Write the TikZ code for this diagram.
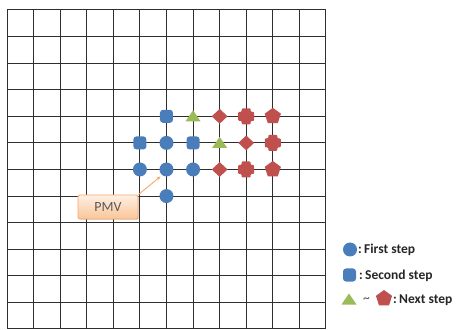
\documentclass[tikz,border=0pt]{standalone}
\usepackage{fontspec}
\setmainfont{Carlito}
\usetikzlibrary{shapes.geometric,arrows.meta,shadows}

\definecolor{stepblue}{HTML}{4A7EBB}
\definecolor{stepgreen}{HTML}{9BBB59}
\definecolor{stepred}{HTML}{C0504D}
\definecolor{pmvline}{HTML}{F6A86E}
\definecolor{pmvtop}{HTML}{FEF0E4}
\definecolor{pmvbot}{HTML}{FBC597}
\definecolor{gridgray}{HTML}{2E2E2E}

\tikzset{
  gridline/.style={draw=gridgray, line width=1pt},
  firstmark/.style={circle, fill=stepblue, inner sep=0pt, minimum size=14pt},
  secondmark/.style={rectangle, rounded corners=3pt, fill=stepblue, inner sep=0pt, minimum size=13pt},
  diamark/.style={diamond, fill=stepred, inner sep=0pt, minimum width=16pt, minimum height=15pt},
  pentmark/.style={regular polygon, regular polygon sides=5, fill=stepred, inner sep=0pt, minimum size=17pt},
  pics/trimark/.style={code={
    \fill[stepgreen] (-7.5pt,-5pt) -- (7.5pt,-5pt) -- (0pt,6pt) -- cycle;}},
  pics/plusmark/.style={code={
    \fill[stepred, rounded corners=1pt] (-4.5pt,-8pt) -- (4.5pt,-8pt) -- (4.5pt,-4.5pt) -- (8pt,-4.5pt)
      -- (8pt,4.5pt) -- (4.5pt,4.5pt) -- (4.5pt,8pt) -- (-4.5pt,8pt) -- (-4.5pt,4.5pt)
      -- (-8pt,4.5pt) -- (-8pt,-4.5pt) -- (-4.5pt,-4.5pt) -- cycle;}},
  pmvbox/.style={draw=pmvline, line width=0.8pt, rounded corners=1.5pt, top color=pmvtop, bottom color=pmvbot,
    minimum width=60pt, minimum height=24pt, inner sep=0pt, text=black!65,
    font=\fontsize{14}{16}\selectfont, drop shadow={opacity=0.25, shadow xshift=1pt, shadow yshift=-1pt}},
  legendtext/.style={anchor=west, inner sep=0pt, font=\fontsize{13.5}{15}\selectfont\bfseries, text=black!85},
}

\begin{document}
\begin{tikzpicture}[x=1pt,y=1pt]
  \useasboundingbox (0,0) rectangle (457,329);

  % grid and search points
  \begin{scope}[shift={(7,319)}, x=26.58pt, y=-26.58pt]
    \foreach \k in {0,...,12} {
      \draw[gridline] (\k,0) -- (\k,12);
      \draw[gridline] (0,\k) -- (12,\k);
    }
    \foreach \c/\r in {5/6,6/6,7/6,6/5,6/7}
      \node[firstmark] (m-\c-\r) at (\c,\r) {};
    \foreach \c/\r in {5/5,6/4,7/5}
      \node[secondmark] (m-\c-\r) at (\c,\r) {};
    \foreach \c/\r in {7/4,8/5}
      \pic (m-\c-\r) at (\c,\r) {trimark};
    \foreach \c/\r in {8/4,8/6,9/5}
      \node[diamark] (m-\c-\r) at (\c,\r) {};
    \foreach \c/\r in {9/4,9/6,10/5}
      \pic (m-\c-\r) at (\c,\r) {plusmark};
    \foreach \c/\r in {10/4,10/6}
      \node[pentmark] (m-\c-\r) at (\c,\r) {};
  \end{scope}

  % PMV label
  \node[pmvbox] (pmv) at (108,122) {PMV};
  \coordinate (pmvtip) at ([shift={(-6,-7)}]m-6-6.center);
  \draw[pmvline, line width=0.9pt, -{Stealth[length=4pt,width=3.5pt]}] (pmv.north east) -- (pmvtip);

  % legend
  \node[firstmark] (lg-first) at (350,79.5) {};
  \node[legendtext] (lg-first-t) at (358,79) {:\,First step};
  \node[secondmark] (lg-second) at (349.5,54) {};
  \node[legendtext] (lg-second-t) at (359,53.5) {:\,Second step};
  \pic (lg-tri) at (349,29.5) {trimark};
  \node[inner sep=0pt, font=\fontsize{13.5}{15}\selectfont, text=black!70] (lg-tilde) at (366.5,29) {\textasciitilde};
  \node[pentmark] (lg-pent) at (384,30.5) {};
  \node[legendtext] (lg-next-t) at (393,29) {:\,Next step};
\end{tikzpicture}
\end{document}
